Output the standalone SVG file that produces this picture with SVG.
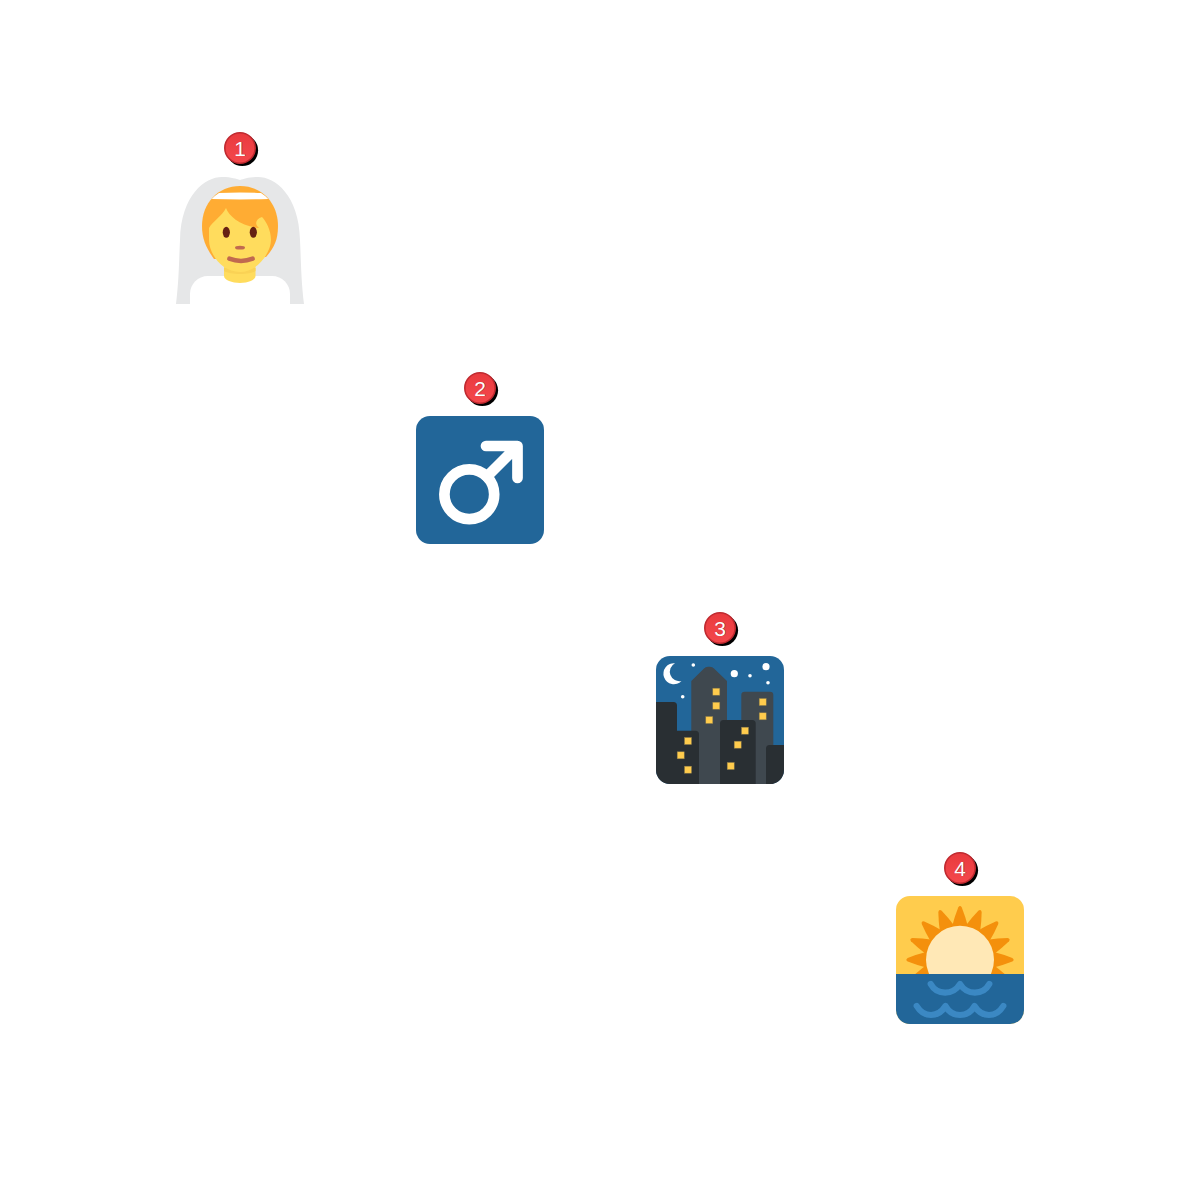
<svg xmlns="http://www.w3.org/2000/svg" width="1200" height="1200" viewBox="0 0 1200 1200">
<style>
.b{fill:url(#bg);stroke:#bf2a30;stroke-width:1.6}
.bs{fill:#000}
.t{font-family:"Liberation Sans",Arial,sans-serif;font-size:21px;text-anchor:middle;fill:#fff}
.ts{fill:#7a1a20}
.w{fill:#FFCC4D;stroke:#8a7a4a;stroke-width:.5}
.s{fill:#fff}
.wave{fill:none;stroke:#3B88C3;stroke-width:6.200;stroke-linecap:round;stroke-linejoin:round}
</style>
<defs>
<linearGradient id="bg" x1="0" y1="0" x2="0" y2="1"><stop offset="0" stop-color="#e93a3e"/><stop offset="1" stop-color="#f4484c"/></linearGradient>
<g id="badge">
<circle class="bs" cx="2.300" cy="2.300" r="15.800"/>
<circle class="b" r="15.200"/>
</g>
<path id="ray" d="M-8 -33Q-5.500 -43 -1.800 -52.300Q0 -55 1.800 -52.300Q5.500 -43 8 -33Z" fill="#F4900C"/>
<clipPath id="sky"><rect x="896" y="896" width="128" height="78"/></clipPath>
</defs>
<g id="node1">
<path fill="#E6E7E8" d="M176 304C179 280 179 260 180 240C181 195 205 177 222 177C232 177 236 179 240 180C244 179 248 177 258 177C275 177 299 195 300 240C301 260 301 280 304 304Z"/>
<path fill="#fff" d="M190 304V294C190 284 198 276 208 276H272C282 276 290 284 290 294V304Z"/>
<path fill="#FFDC5D" d="M224 258H255.500V276C255.500 280 248 283 240 283C232 283 224 280 224 276Z"/>
<path fill="#FAD255" d="M224 268H255.500V271C250 275 230 275 224 271Z"/>
<path fill="#FFAC33" d="M240 186C262 186 278 203 278 226C278 240 274 248 266 257L214 259C207 249 202 240 202 226C202 203 218 186 240 186Z"/>
<path fill="#FFDC5D" d="M209 228C212 222 222 216 226 208C229 216 240 226 259 228C254 224 256 219 262 217C266 221 271 230 271 240C271 252 258 272 240 272C222 272 209 254 209 240Z"/>
<path fill="#fff" d="M211.700 199Q215 195.500 219 193Q240 192 261 193Q265 195.500 268.300 199Q240 199.800 211.700 199Z"/>
<ellipse cx="226.300" cy="232.300" rx="3.600" ry="5.500" fill="#662113"/>
<ellipse cx="253.300" cy="232.300" rx="3.600" ry="5.500" fill="#662113"/>
<ellipse cx="240" cy="247.700" rx="5" ry="1.900" fill="#C1694F"/>
<path d="M229.300 258.700Q241 263.300 252.700 258.700" fill="none" stroke="#C1694F" stroke-width="4.500" stroke-linecap="round"/>
<use href="#badge" x="240" y="148"/>
<text class="t ts" x="240.700" y="156.200">1</text><text class="t" x="240" y="155.500">1</text>
</g>
<g id="node2">
<rect x="416" y="416" width="128" height="128" rx="14" fill="#226699"/>
<circle cx="469.300" cy="494.300" r="24.900" fill="none" stroke="#fff" stroke-width="10.700"/>
<path d="M486 446H517.500V478M517.500 446L487 476.500" fill="none" stroke="#fff" stroke-width="10.700" stroke-linecap="round" stroke-linejoin="round"/>
<use href="#badge" x="480" y="388"/>
<text class="t ts" x="480.700" y="396.200">2</text><text class="t" x="480" y="395.500">2</text>
</g>
<g id="node3">
<rect x="656" y="656" width="128" height="128" rx="14" fill="#226699"/>
<path class="s" d="M675 663.300A10.500 10.500 0 1 0 681.500 681A9.500 9.500 0 0 1 675 663.300Z"/>
<circle class="s" cx="693.300" cy="665" r="1.800"/><circle class="s" cx="734.300" cy="673.700" r="3.600"/><circle class="s" cx="750" cy="675.700" r="1.800"/><circle class="s" cx="766" cy="666.700" r="3.600"/><circle class="s" cx="768" cy="682.700" r="1.800"/><circle class="s" cx="682.700" cy="696.700" r="1.800"/>
<path fill="#3F484F" d="M691.300 784V681L704 668.500Q705.500 666.700 708 666.700H710Q712.500 666.700 714 668.500L727 681V784Z"/>
<path fill="#3F484F" d="M741.300 784V695Q741.300 691.700 744.600 691.700H770Q773.300 691.700 773.300 695V784Z"/>
<path fill="#292F33" d="M656 702H673.500Q677 702 677 705.500V730.700H695.500Q699 730.700 699 734.200V784H670A14 14 0 0 1 656 770Z"/>
<path fill="#292F33" d="M720 784V723.500Q720 720 723.500 720H752.200Q755.700 720 755.700 723.500V784Z"/>
<path fill="#292F33" d="M766 784V748.500Q766 745 769.500 745H784V770A14 14 0 0 1 770 784Z"/>
<rect class="w" x="712.800" y="688.200" width="7" height="7"/><rect class="w" x="712.800" y="702.200" width="7" height="7"/><rect class="w" x="705.800" y="716.500" width="7" height="7"/><rect class="w" x="759.200" y="698.500" width="7" height="7"/><rect class="w" x="759.200" y="712.800" width="7" height="7"/><rect class="w" x="741.500" y="727.200" width="7" height="7"/><rect class="w" x="734.200" y="741.200" width="7" height="7"/><rect class="w" x="727.200" y="762.500" width="7" height="7"/><rect class="w" x="684.500" y="737.500" width="7" height="7"/><rect class="w" x="677.200" y="751.800" width="7" height="7"/><rect class="w" x="684.500" y="766.200" width="7" height="7"/>
<use href="#badge" x="720" y="628"/>
<text class="t ts" x="720.700" y="636.200">3</text><text class="t" x="720" y="635.500">3</text>
</g>
<g id="node4">
<rect x="896" y="896" width="128" height="128" rx="14" fill="#FFCC4D"/>
<g clip-path="url(#sky)">
<g transform="translate(960 959.700)">
<use href="#ray"/><use href="#ray" transform="rotate(22.5)"/><use href="#ray" transform="rotate(45)"/><use href="#ray" transform="rotate(67.5)"/><use href="#ray" transform="rotate(90)"/><use href="#ray" transform="rotate(112.5)"/><use href="#ray" transform="rotate(-22.5)"/><use href="#ray" transform="rotate(-45)"/><use href="#ray" transform="rotate(-67.5)"/><use href="#ray" transform="rotate(-90)"/><use href="#ray" transform="rotate(-112.5)"/>
<circle r="34" fill="#FFE8B6"/>
</g>
</g>
<path fill="#226699" d="M896 974H1024V1010A14 14 0 0 1 1010 1024H910A14 14 0 0 1 896 1010Z"/>
<path class="wave" d="M930.700 984C937 995.500 953 995.500 960 984C967 995.500 983 995.500 989.300 984"/>
<path class="wave" d="M916.700 1006C924 1018 938 1018 945.500 1006C952 1018 968 1018 974.500 1006C982 1018 996 1018 1003.300 1006"/>
<use href="#badge" x="960" y="868"/>
<text class="t ts" x="960.700" y="876.200">4</text><text class="t" x="960" y="875.500">4</text>
</g>
<g id="connectors"/>
</svg>
